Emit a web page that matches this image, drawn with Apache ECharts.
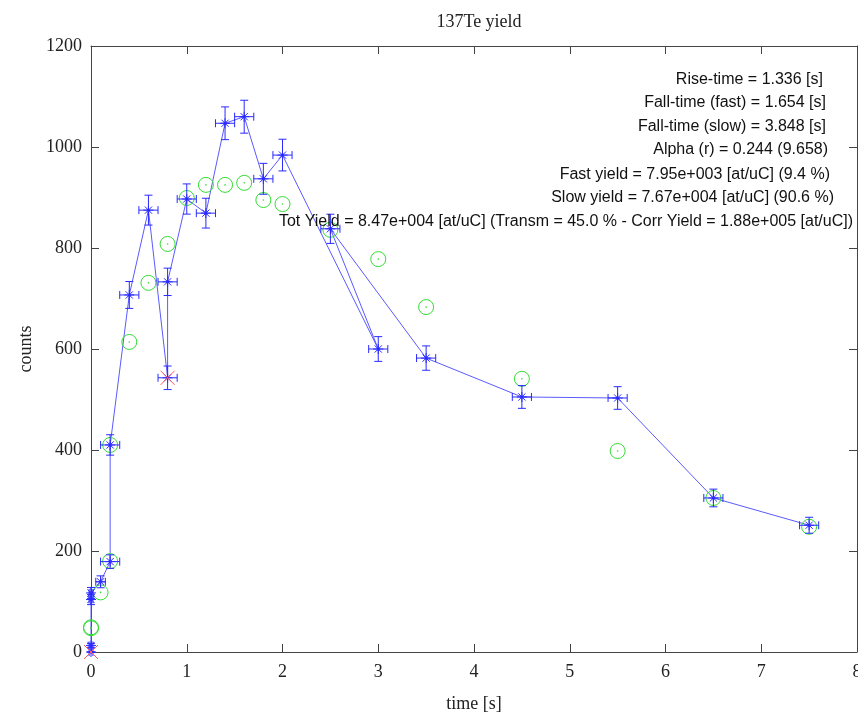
<!DOCTYPE html>
<html>
<head>
<meta charset="utf-8">
<script src="https://cdn.jsdelivr.net/npm/echarts@6/dist/echarts.min.js"></script>
<style>
html, body { margin: 0; padding: 0; background: #fff; }
#main { width: 858px; height: 714px; }
</style>
</head>
<body>
<div id="main"></div>
<script>
// measured points, in acquisition order (line follows this order)
var times  = [0, 0, 0, 0, 0.1, 0.2, 0.2, 0.4, 0.6, 0.8, 0.8, 1.0, 1.2, 1.4, 1.6, 1.8, 2.0, 3.0, 2.5, 3.5, 4.5, 5.5, 6.5, 7.5];
var counts = [0, 13, 104, 117, 139, 179, 410, 707, 875, 543, 733, 897, 869, 1047, 1060, 937, 984, 600, 838, 582, 505, 503, 305, 251];
var xErr   = [0.02, 0.02, 0.02, 0.02, 0.05, 0.1, 0.1, 0.1, 0.1, 0.1, 0.1, 0.1, 0.1, 0.1, 0.1, 0.1, 0.1, 0.1, 0.1, 0.1, 0.1, 0.1, 0.1, 0.1];
var yErr   = [0, 3.6, 10.2, 10.8, 11.8, 13.4, 20.2, 26.6, 29.6, 23.3, 27.1, 29.9, 29.5, 32.4, 32.6, 30.6, 31.4, 24.5, 28.9, 24.1, 22.5, 22.4, 17.5, 15.8];

// rejected points (red crosses)
var rejTimes  = [0, 0.8];
var rejCounts = [0, 543];

// green circles
var greenTimes  = [0, 0, 0.1, 0.2, 0.2, 0.4, 0.6, 0.8, 1.0, 1.2, 1.4, 1.6, 1.8, 2.0, 2.5, 3.0, 3.5, 4.5, 5.5, 6.5, 7.5];
var greenCounts = [47, 49, 118, 180, 410, 614, 731, 808, 899, 925, 925, 929, 895, 887, 836, 778, 683, 541, 398, 305, 248];

var infoLines = [
    'Rise-time = 1.336 [s]',
    'Fall-time (fast) = 1.654 [s]',
    'Fall-time (slow) = 3.848 [s]',
    'Alpha (r) = 0.244 (9.658)',
    'Fast yield = 7.95e+003 [at/uC] (9.4 %)',
    'Slow yield = 7.67e+004 [at/uC] (90.6 %)',
    'Tot Yield = 8.47e+004 [at/uC] (Transm = 45.0 % - Corr Yield = 1.88e+005 [at/uC])'
];

var chartDom = document.getElementById('main');
var myChart = echarts.init(chartDom, null, { renderer: 'canvas' });
var option;

const BLUE = '#2a2aff';
const LINE_BLUE = '#5a5aff';
const GREEN = '#33dd33';
const RED = '#ff5a5a';
const AXIS = '#444';
const serif = '"Liberation Serif", "DejaVu Serif", serif';
const sans = '"Liberation Sans", Arial, sans-serif';

function seg(x1, y1, x2, y2, color) {
    return { type: 'line', shape: { x1: x1, y1: y1, x2: x2, y2: y2 }, style: { stroke: color, lineWidth: 1 } };
}

function renderErrPoint(params, api) {
    var t = api.value(0), c = api.value(1), xe = api.value(2), ye = api.value(3);
    var p = api.coord([t, c]);
    var lo = api.coord([t, c - ye]), hi = api.coord([t, c + ye]);
    var l = api.coord([t - xe, c]), r = api.coord([t + xe, c]);
    var cap = 4, s = 5, d = 3.6;
    var kids = [
        seg(p[0], lo[1], p[0], hi[1], BLUE),
        seg(p[0] - cap, lo[1], p[0] + cap, lo[1], BLUE),
        seg(p[0] - cap, hi[1], p[0] + cap, hi[1], BLUE),
        seg(l[0], p[1], r[0], p[1], BLUE),
        seg(l[0], p[1] - cap, l[0], p[1] + cap, BLUE),
        seg(r[0], p[1] - cap, r[0], p[1] + cap, BLUE),
        // asterisk marker
        seg(p[0] - s, p[1], p[0] + s, p[1], BLUE),
        seg(p[0], p[1] - s, p[0], p[1] + s, BLUE),
        seg(p[0] - d, p[1] - d, p[0] + d, p[1] + d, BLUE),
        seg(p[0] - d, p[1] + d, p[0] + d, p[1] - d, BLUE),
        { type: 'circle', shape: { cx: p[0], cy: p[1], r: 1.5 }, style: { fill: BLUE } }
    ];
    return { type: 'group', children: kids };
}

function renderCircle(params, api) {
    var p = api.coord([api.value(0), api.value(1)]);
    return {
        type: 'group',
        children: [
            { type: 'circle', shape: { cx: p[0], cy: p[1], r: 7.5 }, style: { fill: null, stroke: GREEN, lineWidth: 1 } },
            { type: 'circle', shape: { cx: p[0], cy: p[1], r: 0.8 }, style: { fill: GREEN } }
        ]
    };
}

function renderCross(params, api) {
    var p = api.coord([api.value(0), api.value(1)]);
    var d = 7;
    return {
        type: 'group',
        children: [
            seg(p[0] - d, p[1] - d, p[0] + d, p[1] + d, RED),
            seg(p[0] - d, p[1] + d, p[0] + d, p[1] - d, RED)
        ]
    };
}

var errData = times.map(function (t, i) { return [t, counts[i], xErr[i], yErr[i]]; });
var lineData = times.map(function (t, i) { return [t, counts[i]]; });
var greenData = greenTimes.map(function (t, i) { return [t, greenCounts[i]]; });
var rejData = rejTimes.map(function (t, i) { return [t, rejCounts[i]]; });

var lineY = [80, 103, 127, 150, 175, 198, 222];
var lineRight = [823, 826, 826, 828, 830, 834, 853];

function axisBase() {
    return {
        type: 'value',
        axisLine: { show: true, onZero: false, lineStyle: { color: AXIS, width: 1 } },
        axisTick: { show: true, inside: true, length: 8, lineStyle: { color: AXIS } },
        splitLine: { show: false }
    };
}

option = {
    animation: false,
    backgroundColor: '#fff',
    title: {
        text: '137Te yield',
        left: 474,
        top: 8,
        textAlign: 'center',
        textStyle: { fontFamily: serif, fontSize: 18, fontWeight: 'normal', color: '#222' }
    },
    grid: { left: 91, top: 46, right: 1, bottom: 62, outerBoundsMode: 'none', containLabel: false },
    xAxis: [
        Object.assign(axisBase(), {
            min: 0, max: 8, interval: 1,
            name: 'time [s]',
            nameLocation: 'middle',
            nameGap: 43,
            nameTextStyle: { fontFamily: serif, fontSize: 18, color: '#222' },
            axisLabel: { margin: 11, fontFamily: serif, fontSize: 18, color: '#222' }
        }),
        Object.assign(axisBase(), {
            position: 'top', min: 0, max: 8, interval: 1,
            axisLabel: { show: false }
        })
    ],
    yAxis: [
        Object.assign(axisBase(), {
            min: 0, max: 1200, interval: 200,
            name: 'counts',
            nameLocation: 'middle',
            nameGap: 53,
            nameTextStyle: { fontFamily: serif, fontSize: 18, color: '#222' },
            axisLabel: { margin: 9, fontFamily: serif, fontSize: 18, color: '#222',
                formatter: function (v) { return String(v); } }
        }),
        Object.assign(axisBase(), {
            position: 'right', min: 0, max: 1200, interval: 200,
            axisLabel: { show: false }
        })
    ],
    graphic: infoLines.map(function (txt, i) {
        return {
            type: 'text',
            z: 100,
            style: {
                text: txt,
                x: lineRight[i],
                y: lineY[i],
                align: 'right',
                verticalAlign: 'middle',
                textAlign: 'right',
                textVerticalAlign: 'middle',
                font: '16px ' + sans,
                fill: '#111'
            }
        };
    }),
    series: [
        {
            type: 'line',
            data: lineData,
            showSymbol: false,
            symbol: 'none',
            lineStyle: { color: LINE_BLUE, width: 1 },
            z: 2
        },
        {
            type: 'custom',
            renderItem: renderCircle,
            data: greenData,
            encode: { x: 0, y: 1 },
            clip: false,
            z: 3
        },
        {
            type: 'custom',
            renderItem: renderErrPoint,
            data: errData,
            encode: { x: 0, y: 1 },
            clip: false,
            z: 4
        },
        {
            type: 'custom',
            renderItem: renderCross,
            data: rejData,
            encode: { x: 0, y: 1 },
            clip: false,
            z: 5
        }
    ]
};
option && myChart.setOption(option);
</script>
</body>
</html>
